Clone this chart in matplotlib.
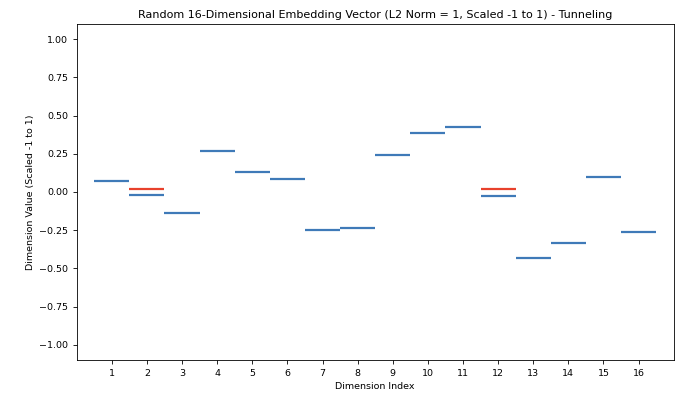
import matplotlib
matplotlib.use("Agg")
import matplotlib.pyplot as plt
import numpy as np

# dimension indices and embedding values
dims = np.arange(1, 17)
values = [0.072, -0.020, -0.140, 0.270, 0.130, 0.086, -0.246, -0.233,
          0.239, 0.388, 0.428, -0.024, -0.434, -0.333, 0.100, -0.261]

# tunneling markers (red) shown above dimensions 2 and 12
tunnel_dims = [2, 12]
tunnel_values = [0.020, 0.020]

fig = plt.figure(figsize=(6.91, 3.97), dpi=100)
ax = fig.add_axes([0.111, 0.093, 0.864, 0.847])

ax.hlines(values, dims - 0.5, dims + 0.5, colors='#3f7ab8', linewidth=1.6)
td = np.array(tunnel_dims)
ax.hlines(tunnel_values, td - 0.5, td + 0.5, colors='#e8412c', linewidth=1.6)

ax.set_xlim(0, 17)
ax.set_ylim(-1.1, 1.1)
ax.set_xticks(dims)
ax.set_yticks([-1.0, -0.75, -0.5, -0.25, 0.0, 0.25, 0.5, 0.75, 1.0])
ax.tick_params(labelsize=6.8, length=2.8, width=0.6)
for s in ax.spines.values():
    s.set_linewidth(0.6)
ax.set_xlabel('Dimension Index', fontsize=6.8, labelpad=3)
ax.set_ylabel('Dimension Value (Scaled -1 to 1)', fontsize=6.8, labelpad=3)
ax.set_title('Random 16-Dimensional Embedding Vector (L2 Norm = 1, Scaled -1 to 1) - Tunneling',
             fontsize=8, pad=4)

fig.savefig('out.png', dpi=100)
